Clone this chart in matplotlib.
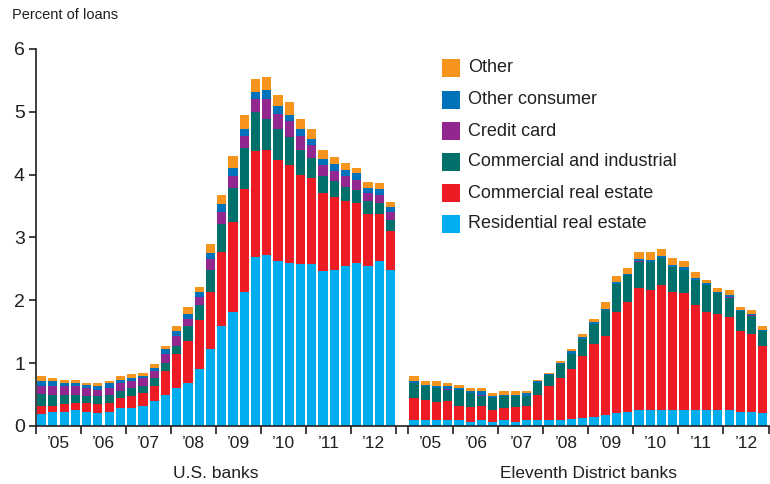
import numpy as np
import matplotlib
matplotlib.use("Agg")
import matplotlib.pyplot as plt
from matplotlib.patches import Rectangle

plt.rcParams['font.family'] = ['Liberation Sans', 'DejaVu Sans']

# ---------------- data (percent of loans, quarterly 2005Q1-2012Q4) ----------------
years = ["\u201905", "\u201906", "\u201907", "\u201908", "\u201909", "\u201910", "\u201911", "\u201912"]
series_names = ["Residential real estate", "Commercial real estate", "Commercial and industrial",
                "Credit card", "Other consumer", "Other"]
colors = ["#00AEEF", "#ED1C24", "#00706B", "#92278F", "#0072BC", "#F7941D"]

us_resid = [0.19, 0.22, 0.22, 0.25, 0.23, 0.21, 0.23, 0.29, 0.29, 0.32, 0.39, 0.50, 0.60, 0.69, 0.91, 1.22,
            1.59, 1.81, 2.14, 2.69, 2.72, 2.63, 2.60, 2.58, 2.58, 2.46, 2.49, 2.55, 2.59, 2.55, 2.63, 2.48]
us_cre = [0.13, 0.10, 0.13, 0.12, 0.13, 0.14, 0.14, 0.16, 0.19, 0.21, 0.24, 0.37, 0.54, 0.67, 0.77, 0.92,
          1.18, 1.44, 1.63, 1.69, 1.68, 1.61, 1.55, 1.42, 1.37, 1.25, 1.15, 1.03, 0.96, 0.83, 0.75, 0.62]
us_ci = [0.19, 0.18, 0.15, 0.13, 0.12, 0.12, 0.13, 0.11, 0.12, 0.11, 0.13, 0.14, 0.14, 0.23, 0.24, 0.35,
         0.44, 0.54, 0.66, 0.62, 0.49, 0.48, 0.45, 0.40, 0.32, 0.27, 0.26, 0.22, 0.21, 0.20, 0.17, 0.18]
us_cc = [0.12, 0.13, 0.13, 0.13, 0.12, 0.11, 0.11, 0.12, 0.11, 0.12, 0.11, 0.13, 0.15, 0.12, 0.13, 0.16,
         0.19, 0.19, 0.19, 0.21, 0.32, 0.25, 0.25, 0.22, 0.20, 0.17, 0.16, 0.18, 0.16, 0.13, 0.13, 0.13]
us_oc = [0.09, 0.08, 0.06, 0.06, 0.06, 0.06, 0.08, 0.06, 0.06, 0.04, 0.06, 0.08, 0.08, 0.08, 0.09, 0.10,
         0.13, 0.13, 0.11, 0.11, 0.13, 0.13, 0.10, 0.11, 0.10, 0.10, 0.11, 0.09, 0.10, 0.08, 0.09, 0.07]
us_other = [0.08, 0.06, 0.05, 0.05, 0.03, 0.05, 0.03, 0.05, 0.05, 0.05, 0.06, 0.06, 0.08, 0.10, 0.08, 0.14,
            0.14, 0.19, 0.22, 0.21, 0.21, 0.17, 0.20, 0.16, 0.16, 0.14, 0.11, 0.12, 0.09, 0.09, 0.09, 0.08]

d11_resid = [0.09, 0.09, 0.09, 0.09, 0.09, 0.07, 0.09, 0.07, 0.09, 0.07, 0.09, 0.09, 0.09, 0.10, 0.11, 0.12,
             0.15, 0.17, 0.20, 0.23, 0.25, 0.26, 0.25, 0.25, 0.25, 0.25, 0.25, 0.25, 0.25, 0.23, 0.23, 0.20]
d11_cre = [0.35, 0.32, 0.29, 0.30, 0.23, 0.24, 0.23, 0.19, 0.20, 0.24, 0.23, 0.41, 0.55, 0.66, 0.79, 1.00,
           1.15, 1.26, 1.61, 1.74, 1.95, 1.90, 1.99, 1.88, 1.86, 1.67, 1.57, 1.53, 1.48, 1.28, 1.23, 1.07]
d11_ci = [0.24, 0.22, 0.23, 0.19, 0.26, 0.21, 0.16, 0.18, 0.18, 0.16, 0.16, 0.19, 0.17, 0.23, 0.25, 0.26,
          0.32, 0.41, 0.45, 0.43, 0.41, 0.45, 0.43, 0.40, 0.38, 0.40, 0.43, 0.34, 0.31, 0.32, 0.29, 0.24]
d11_cc = [0.00, 0.00, 0.00, 0.01, 0.00, 0.01, 0.02, 0.01, 0.00, 0.00, 0.00, 0.00, 0.00, 0.00, 0.00, 0.01,
          0.00, 0.00, 0.00, 0.00, 0.01, 0.00, 0.00, 0.00, 0.00, 0.00, 0.00, 0.00, 0.02, 0.00, 0.01, 0.00]
d11_oc = [0.04, 0.03, 0.03, 0.04, 0.03, 0.03, 0.05, 0.03, 0.03, 0.03, 0.05, 0.02, 0.02, 0.02, 0.04, 0.02,
          0.03, 0.03, 0.03, 0.02, 0.03, 0.03, 0.04, 0.03, 0.04, 0.04, 0.03, 0.02, 0.02, 0.02, 0.02, 0.02]
d11_other = [0.07, 0.06, 0.08, 0.06, 0.05, 0.05, 0.05, 0.04, 0.05, 0.05, 0.03, 0.02, 0.01, 0.03, 0.03, 0.05,
             0.05, 0.10, 0.09, 0.10, 0.12, 0.13, 0.10, 0.11, 0.09, 0.09, 0.04, 0.05, 0.08, 0.05, 0.06, 0.06]

group_labels = ["U.S. banks", "Eleventh District banks"]
y_label = "Percent of loans"
y_ticks = [0, 1, 2, 3, 4, 5, 6]

# ---------------- figure ----------------
W, H = 770, 484
fig = plt.figure(figsize=(W / 100, H / 100), dpi=100)
ax = fig.add_axes([36 / W, 58 / H, (768.5 - 36) / W, (426 - 49) / H])

n = len(us_resid)
offset2 = 33.1
groups = [
    (np.arange(n) + 0.5, [us_resid, us_cre, us_ci, us_cc, us_oc, us_other]),
    (offset2 + np.arange(n) + 0.5, [d11_resid, d11_cre, d11_ci, d11_cc, d11_oc, d11_other]),
]
for xs, comps in groups:
    bottom = np.zeros(n)
    for vals, col in zip(comps, colors):
        v = np.array(vals)
        ax.bar(xs, v, bottom=bottom, width=0.82, color=col, linewidth=0)
        bottom += v

ax.set_xlim(0, offset2 + n)
ax.set_ylim(0, 6)

text_col = "#231F20"
for s in ["top", "right"]:
    ax.spines[s].set_visible(False)
for s in ["left", "bottom"]:
    ax.spines[s].set_color(text_col)
    ax.spines[s].set_linewidth(1.2)

ax.set_yticks(y_ticks)
ax.set_yticklabels([str(t) for t in y_ticks])
ax.tick_params(axis="y", direction="out", length=5, width=1.2, color=text_col,
               labelsize=14, labelcolor=text_col, pad=3)

xt = list(np.arange(0, n + 1, 4)) + list(offset2 + np.arange(0, n + 1, 4))
ax.set_xticks(xt)
ax.set_xticklabels([""] * len(xt))
ax.tick_params(axis="x", direction="out", length=6, width=1.2, color=text_col)

trans = ax.get_xaxis_transform()
for base in [0, offset2]:
    for i, yl in enumerate(years):
        ax.text(base + 4 * i + 2, -17 / 377, yl, transform=trans, ha="center", va="center",
                fontsize=12.5, color=text_col)
ax.text(n / 2, -47 / 377, group_labels[0], transform=trans, ha="center", va="center",
        fontsize=12.5, color=text_col)
ax.text(offset2 + n / 2, -47 / 377, group_labels[1], transform=trans, ha="center", va="center",
        fontsize=12.5, color=text_col)

fig.text(12 / W, 1 - 15 / H, y_label, ha="left", va="center", fontsize=10.5, color=text_col)

# legend (top entry first)
rows_y = [68, 100, 131, 162, 193, 224]
for k, yy in enumerate(rows_y):
    idx = len(series_names) - 1 - k
    fig.add_artist(Rectangle((442 / W, 1 - (yy + 9) / H), 18 / W, 18 / H,
                             transform=fig.transFigure, color=colors[idx], linewidth=0))
    fig.text(468 / W, 1 - yy / H, series_names[idx], ha="left", va="center",
             fontsize=13, color=text_col)

fig.savefig("out.png", dpi=100)
